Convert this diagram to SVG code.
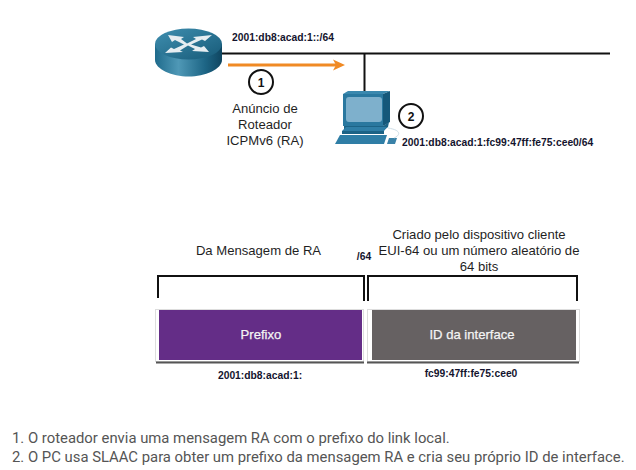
<svg xmlns="http://www.w3.org/2000/svg" width="636" height="470" viewBox="0 0 636 470">
<style>
text{font-family:"Liberation Sans",Arial,sans-serif;fill:#1f1f1f}
.m{font-size:13.1px;text-anchor:middle}
.b{font-size:10.3px;font-weight:bold;fill:#14142e}
.bm{text-anchor:middle}
.w{font-size:13.1px;text-anchor:middle;fill:#f4f4f4;stroke:#f4f4f4;stroke-width:.25}
.f{font-family:"Roboto","Liberation Sans",sans-serif;font-size:14.85px;fill:#555}
.l{stroke:#111;fill:none}
.c{fill:#fff;stroke:#111;stroke-width:2}
.n{font-size:12px;font-weight:bold;text-anchor:middle;fill:#111}
</style>
<defs>
<linearGradient id="rs" x1="0" x2="1" y1="0" y2="0"><stop offset="0" stop-color="#1f6b8c"/><stop offset=".35" stop-color="#4f98b6"/><stop offset=".75" stop-color="#1d6585"/><stop offset="1" stop-color="#0f4560"/></linearGradient>
<linearGradient id="rt" x1="0" x2="1" y1="0" y2="1"><stop offset="0" stop-color="#3f8fb0"/><stop offset="1" stop-color="#175a78"/></linearGradient>
</defs>
<g id="connectors">
<path class="l" stroke-width="2" d="M220 53.500H610"/>
<path class="l" stroke-width="2" d="M364.500 53V92"/>
<path d="M228 65H336" stroke="#f08a24" stroke-width="3" fill="none"/>
<path d="M333 59.500L345 65L333 70.500L336 65Z" fill="#f08a24"/>
</g>
<g id="router">
<path d="M155 44V60C155 69 172 76.500 188.500 76.500C205 76.500 222 69 222 60V44Z" fill="url(#rs)"/>
<ellipse cx="188.500" cy="44" rx="33.500" ry="15.500" fill="url(#rt)"/>
<path d="M168 35L184 37L181 39L187 43.500L196 39L193 37L212 35L205 41L202 39.500L191 44.500L201 47.500L204 46L209 52L192 51L195 49L188 45.500L180 50.500L183 52L165 53L171 47.500L174 49L184 44.500L175 40L172 42Z" fill="#e6edf1"/>
</g>
<g id="pc">
<path d="M343 94L348 91H390L383 94Z" fill="#3a88ae"/>
<path d="M383 94L390 91V122L383 126Z" fill="#15587a"/>
<rect x="343" y="94" width="40" height="32" fill="#2a789f"/>
<rect x="346" y="97" width="36" height="25" rx="3" fill="#7eb0cc"/>
<path d="M344 126H383L389 122L388 127L383 131H344Z" fill="#1c6386"/>
<path d="M346 127H387L384 131H342Z" fill="#2f7ea6"/>
<path d="M342 131H384V134H342Z" fill="#1c6386"/>
<path d="M340 135H387L384 144H335Z" fill="#2f7ea6"/>
<path d="M389 138H397L395 144H387Z" fill="#3a82a8"/>
<path d="M394 138C401 135 401 130 388 128" stroke="#cfdfe8" fill="none"/>
</g>
<g id="badge1"><circle class="c" cx="261" cy="82" r="12"/><text class="n" x="261" y="86.500">1</text></g>
<g id="badge2"><circle class="c" cx="411" cy="116" r="12"/><text class="n" x="411" y="120.500">2</text></g>
<g id="labels">
<text class="b" x="232" y="41">2001:db8:acad:1::/64</text>
<text class="b" x="402" y="146">2001:db8:acad:1:fc99:47ff:fe75:cee0/64</text>
<text class="m" x="265" y="113">Anúncio de</text>
<text class="m" x="265" y="129">Roteador</text>
<text class="m" x="265" y="145">ICPMv6 (RA)</text>
<text class="m" x="258.500" y="255">Da Mensagem de RA</text>
<text class="b bm" x="364" y="260">/64</text>
<text class="m" x="479" y="239">Criado pelo dispositivo cliente</text>
<text class="m" x="479" y="255">EUI-64 ou um número aleatório de</text>
<text class="m" x="479" y="271">64 bits</text>
</g>
<g id="brackets">
<path class="l" stroke-width="2" d="M158 298V276H364V301"/>
<path class="l" stroke-width="2" d="M368 301V276H577V301"/>
</g>
<g id="prefixo">
<rect x="155.500" y="309.500" width="208" height="52" fill="#fff" stroke="#ddd"/>
<path d="M156 362.500H364" stroke="#555" stroke-width="2"/>
<rect x="159" y="310" width="203" height="50" fill="#642d87"/>
<text class="w" x="261" y="339">Prefixo</text>
</g>
<g id="interface">
<rect x="367.500" y="309.500" width="212" height="52" fill="#fff" stroke="#ddd"/>
<path d="M367 362.500H579" stroke="#555" stroke-width="2"/>
<rect x="372" y="310" width="204" height="50" fill="#666162"/>
<text class="w" x="472" y="339">ID da interface</text>
</g>
<text class="b bm" x="260" y="379">2001:db8:acad:1:</text>
<text class="b bm" x="471" y="377">fc99:47ff:fe75:cee0</text>
<text class="f" x="12" y="443">1. O roteador envia uma mensagem RA com o prefixo do link local.</text>
<text class="f" x="12" y="462">2. O PC usa SLAAC para obter um prefixo da mensagem RA e cria seu próprio ID de interface.</text>
</svg>
